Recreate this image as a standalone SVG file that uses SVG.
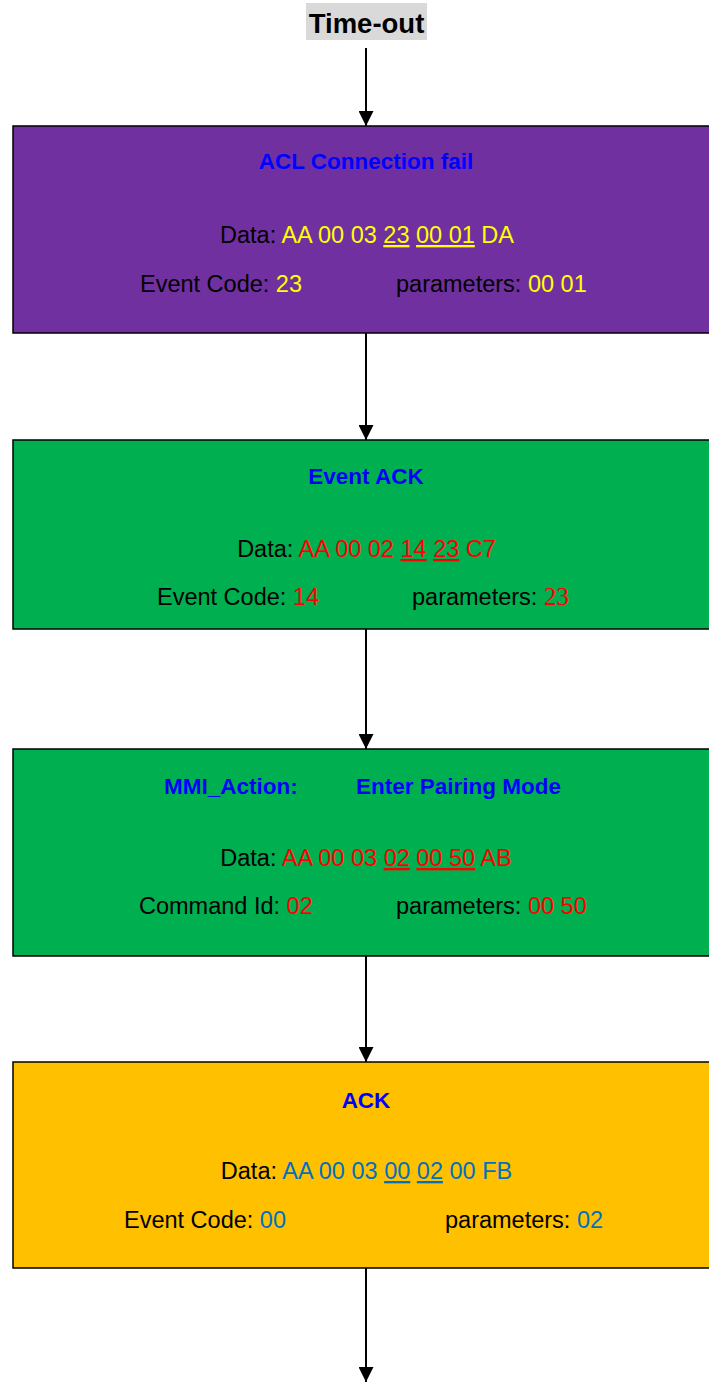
<svg xmlns="http://www.w3.org/2000/svg" width="709" height="1382" viewBox="0 0 709 1382">
<defs>
<style>
.box{stroke:#000;stroke-width:1.5}
.t{font-family:"Liberation Sans",Arial,sans-serif;font-size:23.5px;fill:#000}
.ttl{font-family:"Liberation Sans",Arial,sans-serif;font-size:22.5px;font-weight:bold;fill:#0000FF}
.y{fill:#FFFF00}
.r{fill:#FF0000}
.b{fill:#0070C0}
.u{text-decoration:underline}
.conn{stroke:#000;stroke-width:2;fill:none}
</style>
<marker id="ah" markerUnits="userSpaceOnUse" markerWidth="15" markerHeight="15" refX="15" refY="7.5" orient="auto">
<path d="M0,0 L15,7.5 L0,15 z" fill="#000"/>
</marker>
</defs>
<rect width="709" height="1382" fill="#fff"/>

<g id="timeout">
<rect x="306" y="3" width="121" height="37" fill="#D9D9D9"/>
<text x="366.5" y="33" text-anchor="middle" font-family="Liberation Sans,Arial,sans-serif" font-size="27.5" font-weight="bold" fill="#000">Time-out</text>
</g>

<g id="connectors">
<line class="conn" x1="366" y1="48" x2="366" y2="126" marker-end="url(#ah)"/>
<line class="conn" x1="366" y1="333" x2="366" y2="440" marker-end="url(#ah)"/>
<line class="conn" x1="366" y1="629" x2="366" y2="749" marker-end="url(#ah)"/>
<line class="conn" x1="366" y1="956" x2="366" y2="1062" marker-end="url(#ah)"/>
<line class="conn" x1="366" y1="1268" x2="366" y2="1382" marker-end="url(#ah)"/>
</g>

<g id="acl-fail">
<rect class="box" x="13" y="126" width="710" height="207" fill="#7030A0"/>
<text class="ttl" x="366" y="169" text-anchor="middle">ACL Connection fail</text>
<text class="t" x="367" y="243" text-anchor="middle">Data: <tspan class="y">AA 00 03 </tspan><tspan class="y u">23</tspan><tspan class="y"> </tspan><tspan class="y u">00 01</tspan><tspan class="y"> DA</tspan></text>
<text class="t" x="140" y="292">Event Code: <tspan class="y">23</tspan></text>
<text class="t" x="396" y="292">parameters: <tspan class="y">00 01</tspan></text>
</g>

<g id="event-ack">
<rect class="box" x="13" y="440" width="710" height="189" fill="#00B050"/>
<text class="ttl" x="366" y="484" text-anchor="middle">Event ACK</text>
<text class="t" x="366.5" y="557" text-anchor="middle">Data: <tspan class="r">AA 00 02 </tspan><tspan class="r u">14</tspan><tspan class="r"> </tspan><tspan class="r u">23</tspan><tspan class="r"> C7</tspan></text>
<text class="t" x="157" y="605">Event Code: <tspan class="r">14</tspan></text>
<text class="t" x="412" y="605">parameters: <tspan class="r" font-family="Liberation Serif,serif" font-size="25">23</tspan></text>
</g>

<g id="mmi-action">
<rect class="box" x="13" y="749" width="710" height="207" fill="#00B050"/>
<text class="ttl" x="164" y="794">MMI_Action:</text>
<text class="ttl" x="356" y="794">Enter Pairing Mode</text>
<text class="t" x="366" y="866" text-anchor="middle">Data: <tspan class="r">AA 00 03 </tspan><tspan class="r u">02</tspan><tspan class="r"> </tspan><tspan class="r u">00 50</tspan><tspan class="r"> AB</tspan></text>
<text class="t" x="139" y="914">Command Id: <tspan class="r">02</tspan></text>
<text class="t" x="396" y="914">parameters: <tspan class="r">00 50</tspan></text>
</g>

<g id="ack">
<rect class="box" x="13" y="1062" width="710" height="206" fill="#FFC000"/>
<text class="ttl" x="366" y="1108" text-anchor="middle">ACK</text>
<text class="t" x="366.5" y="1179" text-anchor="middle">Data: <tspan class="b">AA 00 03 </tspan><tspan class="b u">00</tspan><tspan class="b"> </tspan><tspan class="b u">02</tspan><tspan class="b"> 00 FB</tspan></text>
<text class="t" x="124" y="1228">Event Code: <tspan class="b">00</tspan></text>
<text class="t" x="445" y="1228">parameters: <tspan class="b">02</tspan></text>
</g>
</svg>
